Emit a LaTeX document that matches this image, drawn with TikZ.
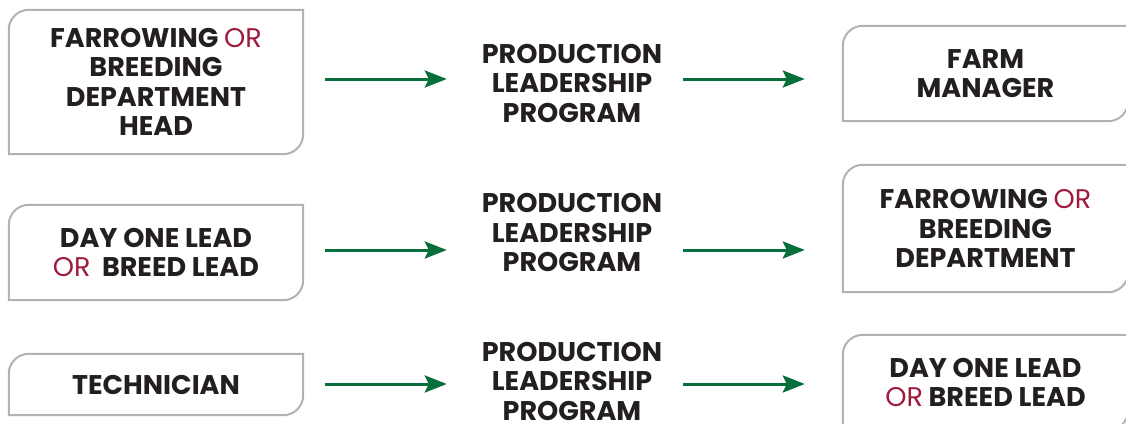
\documentclass[tikz,border=0pt]{standalone}
\usepackage{fontspec}
\setmainfont{Poppins}
\usetikzlibrary{arrows.meta}
\definecolor{inkdark}{RGB}{35,31,32}
\definecolor{orred}{RGB}{158,27,60}
\definecolor{framegray}{RGB}{178,178,178}
\definecolor{flowgreen}{RGB}{7,111,60}
\newcommand{\crad}{20pt}
\newcommand{\altor}{{\fontseries{m}\selectfont\color{orred}OR}}
\newcommand{\rolebox}[1]{%
  \draw[frame] ([xshift=\crad]#1.north west) -- (#1.north east) -- ([yshift=\crad]#1.south east)
    arc[start angle=0,end angle=-90,radius=\crad] -- (#1.south west) -- ([yshift=-\crad]#1.north west)
    arc[start angle=180,end angle=90,radius=\crad] -- cycle;}
\tikzset{
  label text/.style={font=\fontsize{27}{29.5}\selectfont\bfseries, text=inkdark, align=center, inner sep=0pt},
  role/.style={label text, minimum width=#1},
  role/.default=294,
  track/.style={label text, text width=200pt},
  frame/.style={draw=framegray, line width=2pt},
  flow/.style={draw=flowgreen, line width=3pt, -{Stealth[length=22pt,width=17pt,inset=4pt]}}
}
\begin{document}
\begin{tikzpicture}[x=1pt,y=-1pt]
\useasboundingbox (0,0) rectangle (1126,423);
\clip (0,0) rectangle (1126,423);

\node[role, minimum height=144] (lhs1) at (156,82) {FARROWING \altor\\BREEDING\\DEPARTMENT\\HEAD};
\node[role, minimum height=95] (lhs2) at (156,252.5) {DAY ONE LEAD\\\altor\ \ BREED LEAD};
\node[role, minimum height=61] (lhs3) at (156,384.5) {TECHNICIAN};

\node[track] (mid1) at (572,83) {PRODUCTION\\LEADERSHIP\\PROGRAM};
\node[track] (mid2) at (572,232.5) {PRODUCTION\\LEADERSHIP\\PROGRAM};
\node[track] (mid3) at (572,381) {PRODUCTION\\LEADERSHIP\\PROGRAM};

\node[role=285, minimum height=95] (rhs1) at (985.5,73.5) {FARM\\MANAGER};
\node[role=285, minimum height=127] (rhs2) at (985.5,228.5) {FARROWING \altor\\BREEDING\\DEPARTMENT};
\node[role=285, minimum height=95] (rhs3) at (985.5,382.5) {DAY ONE LEAD\\\altor\ BREED LEAD};

\foreach \b in {lhs1,lhs2,lhs3,rhs1,rhs2,rhs3}
  \rolebox{\b};

\coordinate (lane1) at (0,79);
\coordinate (lane2) at (0,250);
\coordinate (lane3) at (0,384);

\foreach \i in {1,2,3} {
  \draw[flow, shorten <=22pt, shorten >=25pt] (lhs\i.east |- lane\i) -- (mid\i.west |- lane\i);
  \draw[flow, shorten <=11pt, shorten >=38pt] (mid\i.east |- lane\i) -- (rhs\i.west |- lane\i);
}
\end{tikzpicture}
\end{document}
